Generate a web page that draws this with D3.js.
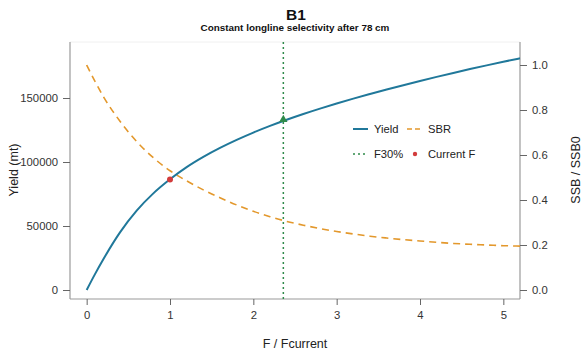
<!DOCTYPE html>
<html><head><meta charset="utf-8">
<script src="https://cdn.jsdelivr.net/npm/d3@7"></script>
<style>body{margin:0;background:#fff;}svg{display:block;font-family:"Liberation Sans",Arial,sans-serif;}</style>
</head><body><svg id="c" width="584" height="356"></svg>
<script>
const fGrid = [0,0.1,0.2,0.4,0.6,0.8,1.0,1.2,1.4,1.6,1.8,2.0,2.2,2.4,2.6,2.8,3.0,3.2,3.4,3.6,3.8,4.0,4.2,4.4,4.6,4.8,5.0,5.2];
const yieldVals = [0,12400,24000,45000,62000,75500,86500,96000,104000,111000,117300,123000,128200,133000,137500,141700,145700,149500,153100,156600,160000,163300,166500,169600,172600,175500,178300,181000];
const sbrVals = [1.0,0.927,0.86,0.75,0.66,0.588,0.53,0.485,0.445,0.41,0.378,0.35,0.326,0.305,0.288,0.273,0.26,0.249,0.239,0.231,0.224,0.218,0.212,0.207,0.203,0.2,0.197,0.195];
const xTicks = [0,1,2,3,4,5];
const yTicks = [0,50000,100000,150000];
const rTicks = [0,0.2,0.4,0.6,0.8,1.0];
const f30 = 2.36, f30Yield = 132300;
const fCur = 1.0, fCurYield = 86400;
const title = "B1", subtitle = "Constant longline selectivity after 78 cm";

const svg = d3.select("#c");
const L=70,R=520,T=42,B=299;
const x = d3.scaleLinear().domain([-0.2,5.2]).range([L,R]);
const y = d3.scaleLinear().domain([0,50000]).range([290,226]);
const y2 = d3.scaleLinear().domain([0,1]).range([290,65]);

const cYield="#20789a", cSbr="#e3982c", cF30="#2f8a4a", cCur="#d23c3c";

svg.append("line").attr("x1",L).attr("x2",R).attr("y1",T).attr("y2",T).attr("stroke","#f0f0f0");

const gx = svg.append("g").attr("transform",`translate(0,${B})`)
  .call(d3.axisBottom(x).tickValues(xTicks).tickFormat(d3.format("d")).tickSize(6).tickPadding(6).tickSizeOuter(0));
const gy = svg.append("g").attr("transform",`translate(${L},0)`)
  .call(d3.axisLeft(y).tickValues(yTicks).tickFormat(d3.format("d")).tickSize(7).tickPadding(5).tickSizeOuter(0));
const gr = svg.append("g").attr("transform",`translate(${R},0)`)
  .call(d3.axisRight(y2).tickValues(rTicks).tickFormat(d3.format(".1f")).tickSize(7).tickPadding(5).tickSizeOuter(0));
[gx,gy,gr].forEach(g=>{
  g.select(".domain").attr("stroke","#9a9a9a").attr("stroke-width",1.2);
  g.selectAll(".tick line").attr("stroke","#666");
  g.selectAll(".tick text").attr("fill","#333").style("font-size","11.3px").style("font-family","Liberation Sans, Arial, sans-serif");
});
gx.select(".domain").attr("d",`M${L},0H${R}`);
gy.select(".domain").attr("d",`M0,${T}V${B}`);
gr.select(".domain").attr("d",`M0,${T}V${B}`);

svg.append("line").attr("x1",x(f30)).attr("x2",x(f30)).attr("y1",T).attr("y2",B)
  .attr("stroke",cF30).attr("stroke-width",1.5).attr("stroke-dasharray","2,3");

const data = fGrid.map((f,i)=>({f,yv:yieldVals[i],s:sbrVals[i]}));
svg.append("path").datum(data).attr("fill","none").attr("stroke",cSbr).attr("stroke-width",1.6)
  .attr("stroke-dasharray","7,5")
  .attr("d",d3.line().x(d=>x(d.f)).y(d=>y2(d.s)).curve(d3.curveMonotoneX));
svg.append("path").datum(data).attr("fill","none").attr("stroke",cYield).attr("stroke-width",2)
  .attr("d",d3.line().x(d=>x(d.f)).y(d=>y(d.yv)).curve(d3.curveMonotoneX));

svg.append("path").attr("d",d3.symbol(d3.symbolTriangle,30)())
  .attr("transform",`translate(${x(f30)},${y(f30Yield)-1})`).attr("fill",cF30);
svg.append("circle").attr("cx",x(fCur)).attr("cy",y(fCurYield)).attr("r",3).attr("fill",cCur);

const lg = svg.append("g").style("font-size","11.2px").attr("fill","#222");
lg.append("line").attr("x1",353).attr("x2",368).attr("y1",129).attr("y2",129).attr("stroke",cYield).attr("stroke-width",2);
lg.append("text").attr("x",374).attr("y",133).text("Yield");
lg.append("line").attr("x1",407).attr("x2",423).attr("y1",129).attr("y2",129).attr("stroke",cSbr).attr("stroke-width",1.6).attr("stroke-dasharray","5,3");
lg.append("text").attr("x",428).attr("y",133).text("SBR");
lg.append("line").attr("x1",353).attr("x2",368).attr("y1",154).attr("y2",154).attr("stroke",cF30).attr("stroke-width",1.3).attr("stroke-dasharray","2,3");
lg.append("text").attr("x",374).attr("y",158).text("F30%");
lg.append("circle").attr("cx",415).attr("cy",154).attr("r",2.2).attr("fill",cCur);
lg.append("text").attr("x",428).attr("y",158).text("Current F");

svg.append("text").attr("x",296).attr("y",20).attr("text-anchor","middle").style("font-size","15.5px").style("font-weight","bold").attr("fill","#111").text(title);
svg.append("text").attr("x",295).attr("y",31).attr("text-anchor","middle").style("font-size","9.9px").style("font-weight","bold").attr("fill","#111").text(subtitle);
svg.append("text").attr("transform","translate(18,170) rotate(-90)").attr("text-anchor","middle").style("font-size","12.5px").attr("fill","#222").text("Yield (mt)");
svg.append("text").attr("transform","translate(580,170) rotate(-90)").attr("text-anchor","middle").style("font-size","12.5px").attr("fill","#222").text("SSB / SSB0");
svg.append("text").attr("x",295).attr("y",348).attr("text-anchor","middle").style("font-size","12.5px").attr("fill","#222").text("F / Fcurrent");
</script></body></html>
